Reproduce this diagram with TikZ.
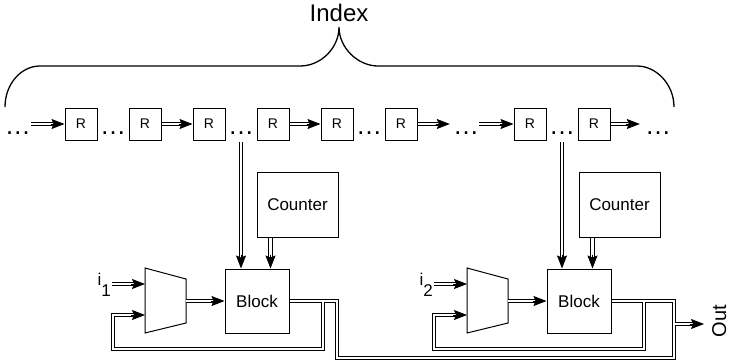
\documentclass[tikz,border=0pt]{standalone}
\usepackage{fontspec}
\setmainfont{Liberation Sans}
\usetikzlibrary{arrows.meta,calc}

% a bus line (double stroke) from #1 to #2 ending in a solid head
\newcommand\busto[2]{%
  \draw[bus, shorten >=11.5pt] #1 -- #2;
  \draw[headonly] ($#2!14pt!#1$) -- #2;}

\begin{document}
\begin{tikzpicture}[x=1pt,y=-1pt,
  reg/.style={draw, line width=1pt, minimum width=32pt, minimum height=32pt,
    inner sep=0pt, font=\fontsize{14}{14}\selectfont},
  unit/.style={draw, line width=1pt, inner sep=0pt, font=\fontsize{17}{17}\selectfont},
  gap/.style={inner sep=0pt, anchor=base, font=\fontsize{26}{26}\selectfont},
  lbl/.style={inner sep=1pt, anchor=base east, font=\fontsize{17}{17}\selectfont},
  mux/.style={line width=1pt, line join=miter},
  bus/.style={double, double distance=2.2pt, line width=1pt},
  headonly/.style={line width=0.8pt, -{Stealth[length=13pt, width=10pt, inset=2pt]}},
]
\useasboundingbox (0,0) rectangle (732,360);

% brace spanning the register chain
\draw[line width=1.3pt] (5,107) .. controls (5,84) and (21,66) .. (40,66)
  -- (300,66) .. controls (321,66) and (339,48) .. (339,27)
  .. controls (339,48) and (358,66) .. (378,66)
  -- (637,66) .. controls (656,66) and (674,84) .. (674,107);
\node[anchor=base, inner sep=0pt, font=\fontsize{24}{24}\selectfont] (idx) at (339,21) {Index};

% register chain
\foreach \n/\x in {1/81,2/145,3/209,4/273,5/337,6/401,7/530,8/594}
  \node[reg] (r\n) at (\x,124) {R};
\foreach \n/\x in {0/18,1/113,2/241,3/369,4/466,5/562,6/658}
  \node[gap] (d\n) at (\x,134) {…};

\busto{(d0.east |- r1.west)}{(r1.west)}
\busto{(r2.east)}{(r3.west)}
\busto{(r4.east)}{(r5.west)}
\path (d4.west |- r6.east) ++(-3,0) coordinate (e4);
\busto{(r6.east)}{(e4)}
\busto{(d4.east |- r7.west)}{(r7.west)}
\path (d6.west |- r8.east) ++(-5,0) coordinate (e6);
\busto{(r8.east)}{(e6)}

% processing blocks and counters
\node[unit, minimum width=64pt, minimum height=64pt] (b1) at (257,301) {Block};
\node[unit, minimum width=64pt, minimum height=64pt] (b2) at (579,301) {Block};
\node[unit, minimum width=81pt, minimum height=65pt] (c1) at (297.5,204.5) {Counter};
\node[unit, minimum width=81pt, minimum height=65pt] (c2) at (619.5,204.5) {Counter};

\path (d2.base) ++(0,8) coordinate (t1);
\path (d5.base) ++(0,8) coordinate (t2);
\path (c1.south west) ++(14,0) coordinate (u1);
\path (c2.south west) ++(14,0) coordinate (u2);
\busto{(t1)}{(t1 |- b1.north)}
\busto{(t2)}{(t2 |- b2.north)}
\busto{(u1)}{(u1 |- b1.north)}
\busto{(u2)}{(u2 |- b2.north)}

% multiplexers
\draw[mux] (145,268) -- (186,279) -- (186,323) -- (145,333) -- cycle;
\draw[mux] (467,268) -- (508,279) -- (508,323) -- (467,333) -- cycle;
\coordinate (m1a) at (145,284);
\coordinate (m1b) at (145,315);
\coordinate (m1o) at (186,301);
\coordinate (m2a) at (467,284);
\coordinate (m2b) at (467,315);
\coordinate (m2o) at (508,301);

\node[lbl] (i1) at (112,285) {i\raisebox{-11pt}{1}};
\node[lbl] (i2) at (434,285) {i\raisebox{-11pt}{2}};
\busto{(i1.east |- m1a)}{(m1a)}
\busto{(i2.east |- m2a)}{(m2a)}
\busto{(m1o)}{(b1.west)}
\busto{(m2o)}{(b2.west)}

% output network with feedback loops
\coordinate (k1) at (337,301);
\coordinate (k2) at (337,358);
\coordinate (k3) at (674,358);
\coordinate (k4) at (674,301);
\coordinate (l1) at (323,301);
\coordinate (l2) at (323,349);
\coordinate (l3) at (113,349);
\coordinate (l4) at (113,315);
\coordinate (l5) at (122,315);
\coordinate (n1) at (644,301);
\coordinate (n2) at (644,349);
\coordinate (n3) at (434,349);
\coordinate (n4) at (434,315);
\coordinate (n5) at (443,315);
\coordinate (o1) at (674,324);
\coordinate (o2) at (682,324);

\draw[bus] (b1.east) -- (k1) -- (k2) -- (k3) -- (k4) -- (b2.east)
  (l1) -- (l2) -- (l3) -- (l4) -- (l5)
  (n1) -- (n2) -- (n3) -- (n4) -- (n5)
  (o1) -- (o2);
\busto{(l5)}{(m1b)}
\busto{(n5)}{(m2b)}

\node[rotate=90, anchor=north, inner sep=1pt, font=\fontsize{20}{20}\selectfont] (out) at (711,321) {Out};
\path (out.north |- o2) ++(-7,0) coordinate (ot);
\busto{(o2)}{(ot)}
\end{tikzpicture}
\end{document}
